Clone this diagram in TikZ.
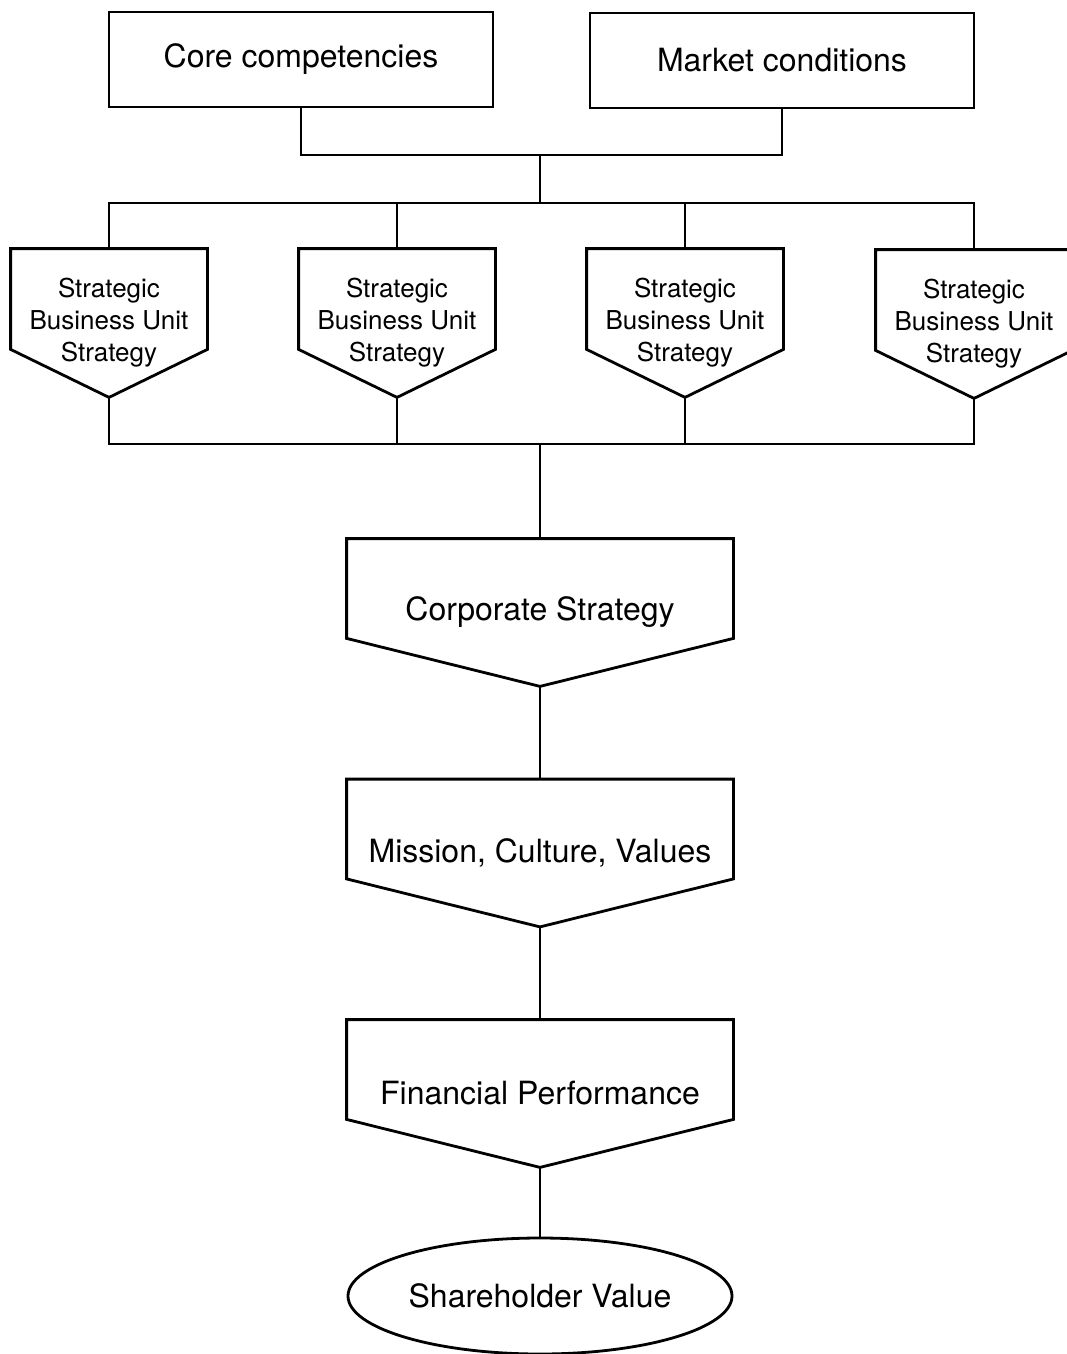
\documentclass[tikz,border=0pt]{standalone}
\usepackage{fontspec}
\setmainfont{TeX Gyre Heros}
\usetikzlibrary{shapes.geometric}
\begin{document}
\begin{tikzpicture}[x=1pt,y=-1pt,
  line width=2.8pt, line join=miter,
  big/.style={font=\fontsize{32}{38}\selectfont},
  inputbox/.style={big, draw, rectangle, minimum width=384pt, minimum height=95pt, inner sep=0pt},
  sbu/.style={minimum width=194pt, minimum height=146pt, inner sep=0pt, align=center,
              font=\fontsize{26}{32}\selectfont},
  stage/.style={big, minimum width=384pt, minimum height=145pt, inner sep=0pt},
  goal/.style={big, draw, ellipse, minimum width=384pt, minimum height=116pt, inner sep=0pt},
  link/.style={line width=2.8pt}
]
\useasboundingbox (0,0) rectangle (1067,1354);

% inputs
\node[inputbox] (core)   at (301,59.5) {Core competencies};
\node[inputbox] (market) at (782,60.5) {Market conditions};

% business unit strategies
\node[sbu] (s1) at (109,323) {Strategic\\Business Unit\\Strategy};
\node[sbu] (s2) at (397,323) {Strategic\\Business Unit\\Strategy};
\node[sbu] (s3) at (685,323) {Strategic\\Business Unit\\Strategy};
\node[sbu] (s4) at (974,324) {Strategic\\Business Unit\\Strategy};

% chain down to shareholder value
\node[stage] (corp) at (540,612.5)  {Corporate Strategy};
\node[stage] (miss) at (540,853)    {Mission, Culture, Values};
\node[stage] (fin)  at (540,1093.5) {Financial Performance};
\node[goal]  (sv)   at (540,1296)   {Shareholder Value};

% pointed outlines
\foreach \n in {s1,s2,s3,s4,corp,miss,fin}
  \draw (\n.north west) -- (\n.north east) -- ([yshift=48pt]\n.south east)
        -- (\n.south) -- ([yshift=48pt]\n.south west) -- cycle;

% junction points
\coordinate (join) at (540,155);
\coordinate (fan)  at (540,203);
\coordinate (gather) at (540,444);

% connectors
\draw[link] (core.south) |- (join) -| (market.south);
\draw[link] (join) -- (fan);
\draw[link] (s1.north) |- (fan) -| (s4.north);
\draw[link] (s2.north) |- (fan);
\draw[link] (s3.north) |- (fan);
\draw[link] (s1.south) |- (gather) -| (s4.south);
\draw[link] (s2.south) |- (gather);
\draw[link] (s3.south) |- (gather);
\draw[link] (gather) -- (corp.north);
\draw[link] (corp.south) -- (miss.north);
\draw[link] (miss.south) -- (fin.north);
\draw[link] (fin.south) -- (sv.north);
\end{tikzpicture}
\end{document}
